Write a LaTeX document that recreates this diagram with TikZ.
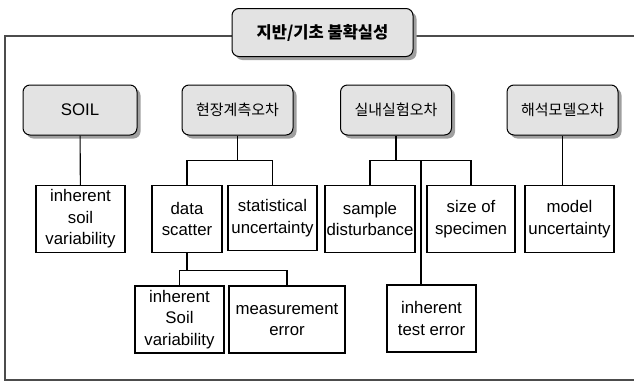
\documentclass[tikz,border=0pt]{standalone}
\usepackage{fontspec}
\setmainfont{Liberation Sans}
\newfontfamily\kor{Noto Sans CJK KR}
\usetikzlibrary{shadows}

\begin{document}
\begin{tikzpicture}[x=1pt,y=-1pt,
  every node/.style={font=\fontsize{16.8}{21.5}\selectfont, align=center, inner sep=1pt},
  catbox/.style={draw, line width=1pt, rounded corners=7pt, fill=gray!22,
    minimum width=111pt, minimum height=50pt,
    drop shadow={shadow xshift=3.5pt, shadow yshift=-3.5pt, fill=gray!75, opacity=1}},
  itembox/.style={draw, line width=1.1pt, fill=white, minimum width=89pt, minimum height=67pt},
  link/.style={line width=1.1pt}]
  \useasboundingbox (0,0) rectangle (634,383);
  % outer frame
  \draw[line width=2pt, black!70] (634,36) -- (5,36) -- (5,380) -- (634,380);
  \node[catbox, minimum width=181pt, minimum height=48pt, font=\kor\bfseries\fontsize{16.5}{20}\selectfont] (title) at (322.5,32.5) {지반/기초 불확실성};
  % first level
  \node[catbox, minimum width=114pt] (soil) at (80,110) {SOIL};
  \node[catbox, font=\kor\fontsize{15}{20}\selectfont] (field) at (237.5,110) {현장계측오차};
  \node[catbox, font=\kor\fontsize{15}{20}\selectfont] (lab) at (396,110) {실내실험오차};
  \node[catbox, font=\kor\fontsize{15}{20}\selectfont] (model) at (562.5,110) {해석모델오차};
  % second level
  \node[itembox] (soilvar) at (80.5,219) {inherent\\soil\\variability};
  \node[itembox, minimum width=70pt] (scatter) at (187,219) {data\\scatter};
  \node[itembox, minimum height=65pt] (stat) at (272.5,218) {statistical\\uncertainty};
  \node[itembox, minimum width=90pt] (sample) at (370,219) {sample\\disturbance};
  \node[itembox, minimum width=88pt] (size) at (471,219) {size of\\specimen};
  \node[itembox] (modunc) at (569.5,219) {model\\uncertainty};
  % third level
  \node[itembox] (soilvar2) at (179.5,319.5) {inherent\\Soil\\variability};
  \node[itembox, minimum width=116pt] (meas) at (287,319.5) {measurement\\error};
  \node[itembox] (testerr) at (431.5,318.5) {inherent\\test error};
  % connectors
  \draw[link] (soil) -- (soilvar);
  \draw[link] (model) -- (model |- modunc.north);
  \draw[link] (field.south) -- ++(0,25) coordinate (fieldj);
  \draw[link] (scatter.north) |- (fieldj) -| (stat.north);
  \draw[link] (lab.south) -- ++(0,25) coordinate (labj);
  \draw[link] (sample.north) |- (labj) -| (size.north);
  \coordinate (testj) at (421,160);
  \draw[link] (testj) -- (testj |- testerr.north);
  \draw[link] (scatter.south) -- ++(0,17) coordinate (scatj);
  \draw[link] (soilvar2.north) |- (scatj) -| (meas.north);
\end{tikzpicture}
\end{document}
